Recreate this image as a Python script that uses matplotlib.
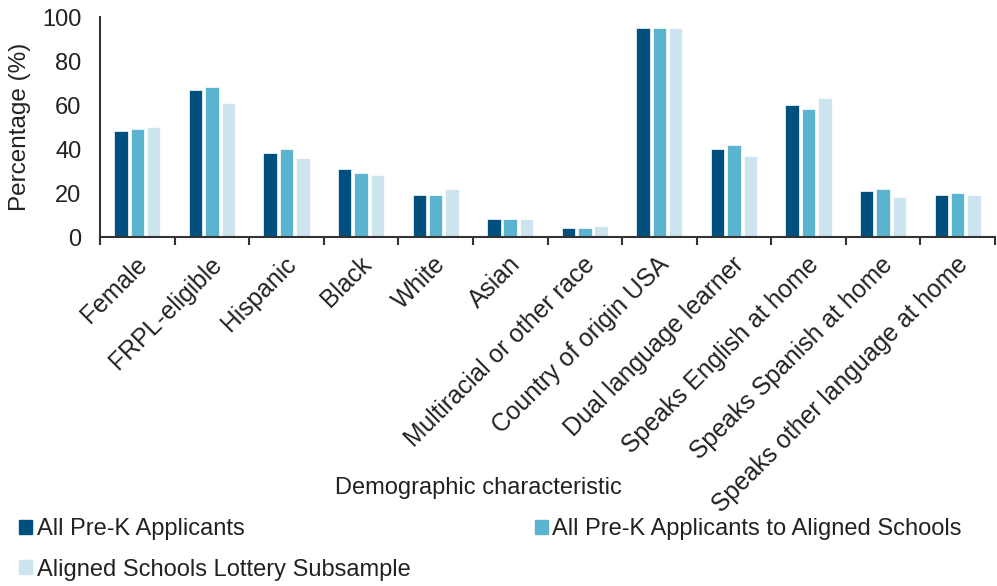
import numpy as np
import matplotlib.pyplot as plt
from matplotlib.patches import Patch

plt.rcParams['font.family'] = ['Liberation Sans', 'DejaVu Sans']

categories = ["Female", "FRPL-eligible", "Hispanic", "Black", "White", "Asian",
              "Multiracial or other race", "Country of origin USA",
              "Dual language learner", "Speaks English at home",
              "Speaks Spanish at home", "Speaks other language at home"]
all_prek = [48, 67, 38, 31, 19, 8, 4, 95, 40, 60, 21, 19]
aligned = [49, 68, 40, 29, 19, 8, 4, 95, 42, 58, 22, 20]
lottery = [50, 61, 36, 28, 22, 8, 5, 95, 37, 63, 18, 19]
series_names = ["All Pre-K Applicants", "All Pre-K Applicants to Aligned Schools",
                "Aligned Schools Lottery Subsample"]
colors = ["#00507f", "#5ab4d0", "#cce4ee"]

fig = plt.figure(figsize=(9.97, 5.86), dpi=100)
ax = fig.add_axes([100 / 997, 1 - 237 / 586, 895 / 997, 220 / 586])

x = np.arange(len(categories))
w = 0.18
gap = 0.22
for i, vals in enumerate([all_prek, aligned, lottery]):
    ax.bar(x + (i - 1) * gap, vals, width=w, color=colors[i],
           edgecolor="white", linewidth=0.5, label=series_names[i])

ax.set_xlim(-0.5, len(categories) - 0.5)
ax.set_ylim(0, 100)
ax.set_yticks([0, 20, 40, 60, 80, 100])
ax.tick_params(axis="y", length=0, labelsize=17, colors="#222222", pad=13.5)
ax.set_xticks(np.arange(len(categories) + 1) - 0.5, minor=False)
ax.set_xticklabels([])
ax.set_xticks(x - 0.03, minor=True)
ax.set_xticklabels(categories, minor=True, rotation=45, ha="right",
                   rotation_mode="anchor", fontsize=17.8, color="#222222")
ax.tick_params(axis="x", which="major", length=6, width=1.5, color="#333333", direction="out")
ax.tick_params(axis="x", which="minor", length=0, pad=11)
for s in ["top", "right"]:
    ax.spines[s].set_visible(False)
ax.spines["bottom"].set_linewidth(1.5)
ax.spines["bottom"].set_color("#333333")
ax.spines["left"].set_linewidth(1.5)
ax.spines["left"].set_color("#333333")
ax.set_ylabel("Percentage (%)", fontsize=17.5, color="#222222", labelpad=8)

fig.text(478 / 997, 1 - 488 / 586, "Demographic characteristic", ha="center",
         va="center", fontsize=17, color="#222222")

handles = [Patch(color=c) for c in colors]
order = [0, 2, 1]
fig.legend([handles[k] for k in order], [series_names[k] for k in order],
           ncol=2, loc="lower left", bbox_to_anchor=(-2 / 997, -0.027),
           frameon=False, fontsize=17, handlelength=0.55, handleheight=0.55,
           handletextpad=0.2, columnspacing=5.25, labelspacing=0.77,
           labelcolor="#222222")

fig.savefig("out.png", dpi=100)
